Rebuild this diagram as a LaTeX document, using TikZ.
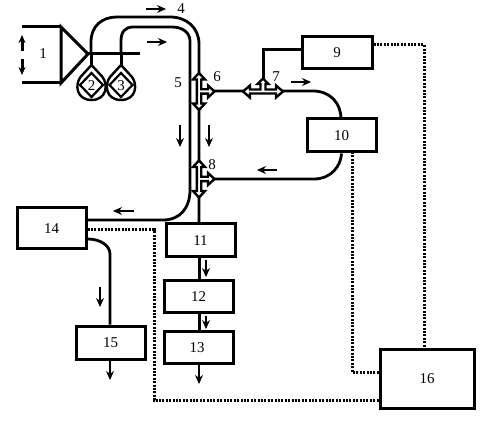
\documentclass[tikz,border=0pt]{standalone}
\usepackage{fontspec}
\setmainfont{Liberation Serif}
\usetikzlibrary{arrows.meta}
\tikzset{
  box/.style={draw,line width=3pt,fill=white,rectangle,minimum width=#1,inner sep=0pt,font=\fontsize{15pt}{17pt}\selectfont},
  lab/.style={inner sep=0pt,font=\fontsize{15pt}{17pt}\selectfont},
  tube/.style={line width=2.8pt},
  sline/.style={line width=3pt},
  dots/.style={line width=3pt,dash pattern=on 2pt off 1.4pt},
  flow/.style={line width=1.1pt,-{Stealth[length=9pt,width=8pt]}},
  coupler/.style={line width=2.4pt,fill=white,line join=miter}
}
\newcommand{\couplerV}[2]{%
  \draw[coupler,shift={(#1,#2)}] (0,-18.5) -- (-6,-12) -- (-2.2,-12) -- (-2.2,12) -- (-6,12) -- (0,18.5) -- (6,12) -- (2.2,12) -- (2.2,2.2) -- (9,2.2) -- (9,6) -- (15.5,0) -- (9,-6) -- (9,-2.2) -- (2.2,-2.2) -- (2.2,-12) -- (6,-12) -- cycle;}
\begin{document}
\begin{tikzpicture}[x=1pt,y=-1pt]
\useasboundingbox (0,0) rectangle (484,427);
% boxes
\node[box=70pt,minimum height=32pt] (b9) at (337,53) {9};
\node[box=69pt,minimum height=33pt] (b10) at (341.5,135.5) {10};
\node[box=69pt,minimum height=33pt] (b11) at (200.5,240.5) {11};
\node[box=69pt,minimum height=31pt] (b12) at (198.5,296.5) {12};
\node[box=69pt,minimum height=32pt] (b13) at (198.5,347) {};
\node[lab] at (197,348) {13};
\node[box=69pt,minimum height=41pt] (b14) at (51.5,228.5) {14};
\node[box=69pt,minimum height=33pt] (b15) at (110.5,342.5) {15};
\node[box=94pt,minimum height=59pt] (b16) at (427,378.5) {16};
% source
\coordinate (apex) at (88,54);
\draw[line width=3pt,line join=miter] (61,27) -- (apex) -- (61,83) -- cycle;
\draw[sline] (61,27) -- (22,27) (22,83) -- (61,83);
\draw[sline,-{Stealth[length=8pt,width=7pt]}] (22,51) -- (22,35);
\draw[sline,-{Stealth[length=8pt,width=7pt]}] (22,59) -- (22,75);
\node[lab] (n1) at (43,54) {1};
\draw[sline] (apex) -- (140,54);
% pumps
\foreach \xx/\tt/\nm in {91.5/2/p2,121/3/p3}{
  \draw[sline] (\xx,54) -- (\xx,65);
  \draw[line width=2.4pt,line join=round] (\xx,65) -- (\xx-11,77) .. controls (\xx-17,85) and (\xx-15,100) .. (\xx,100) .. controls (\xx+15,100) and (\xx+17,85) .. (\xx+11,77) -- cycle;
  \draw[line width=2.2pt,fill=white] (\xx,73) -- (\xx+11.5,85) -- (\xx,97) -- (\xx-11.5,85) -- cycle;
  \node[lab] (\nm) at (\xx,86) {\tt};
}
% fibres
\coordinate (o1) at (91,54);
\coordinate (i1) at (121,54);
\coordinate (c6) at (199,91);
\coordinate (c8) at (199,179);
\coordinate (c7) at (263,91);
\draw[tube] (o1) -- (91,42) .. controls (91,26) and (102,17) .. (117,17) -- (170,17) .. controls (187,17) and (199,28) .. (199,44) -- (b11.north -| c6);
\draw[tube] (i1) -- (121,41) .. controls (121,32) and (125,27) .. (133,27) -- (172,27) .. controls (183,27) and (190,33) .. (190,41) -- (190,190) .. controls (190,208) and (180,220) .. (163,220) -- (b14.east |- 0,220);
\draw[tube] (c6) -- (313,91) .. controls (330,91) and (341,103) .. (341,119);
\draw[tube] (b10.south) .. controls (341,166) and (331,179) .. (314,179) -- (c8);
\draw[sline] (c7) -- (263,50) -- (b9.west |- 0,50);
\draw[tube] (b14.east |- 0,239) .. controls (101,239) and (110,246) .. (110,254) -- (b15.north -| 110,0);
\draw[sline] (b11.south -| 199,0) -- (b12.north -| 199,0);
\draw[sline] (b12.south -| 199,0) -- (b13.north -| 199,0);
% couplers
\couplerV{199}{91.5}
\couplerV{199}{179}
\draw[coupler] (243,91.5) -- (250,85.5) -- (250,89.5) -- (260.5,89.5) -- (260.5,84) -- (257.5,84) -- (263,78.5) -- (268.5,84) -- (265.5,84) -- (265.5,89.5) -- (276,89.5) -- (276,85.5) -- (283,91.5) -- (276,97.5) -- (276,93.5) -- (250,93.5) -- (250,97.5) -- cycle;
% dotted
\draw[dots] (b9.east |- 0,45) -- (424,45) -- (424,349);
\draw[dots] (352,152) -- (352,372) -- (b16.west |- 0,372);
\draw[dots] (b14.east |- 0,230) -- (154,230) -- (154,400) -- (b16.west |- 0,400);
% flows
\draw[flow] (146,9) -- (166,9);
\draw[flow] (147,42) -- (167,42);
\draw[flow] (180,125) -- (180,147);
\draw[flow] (209,125) -- (209,147);
\draw[flow] (291,82) -- (311,82);
\draw[flow] (277,170) -- (257,170);
\draw[flow] (134,211) -- (113,211);
\draw[flow] (100,287) -- (100,307);
\draw[flow] (206,260) -- (206,277);
\draw[flow] (206,316) -- (206,329);
\draw[flow] (b15.south -| 110,0) -- (110,380);
\draw[flow] (b13.south -| 199,0) -- (199,384);
% labels
\node[lab] (n4) at (181,9) {4};
\node[lab] (n5) at (178,83) {5};
\node[lab] (n6) at (217,77) {6};
\node[lab] (n7) at (276,77) {7};
\node[lab] (n8) at (212,165) {8};
\end{tikzpicture}
\end{document}
